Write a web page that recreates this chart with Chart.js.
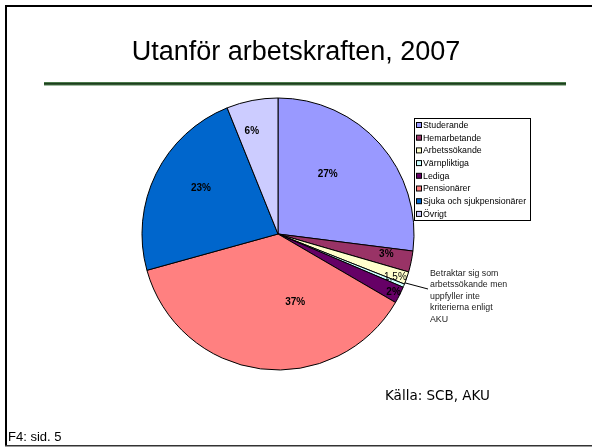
<!DOCTYPE html>
<html lang="sv">
<head>
<meta charset="UTF-8">
<title>Utanför arbetskraften, 2007</title>
<style>
  html, body { margin: 0; padding: 0; background: #fff; }
  canvas { display: block; }
</style>
</head>
<body>
<canvas id="chart" width="592" height="447"></canvas>
<script src="https://cdn.jsdelivr.net/npm/chart.js"></script>
<script>
// data
const categories = ["Studerande", "Hemarbetande", "Arbetssökande", "Värnpliktiga",
                    "Lediga", "Pensionärer", "Sjuka och sjukpensionärer", "Övrigt"];
const shares = [27, 2.5, 1.5, 0.4, 2, 37.3, 23.2, 6.1];
const shareLabels = ["27%", "3%", "1,5%", "", "2%", "37%", "23%", "6%"];
const noteLines = ["Betraktar sig som", "arbetssökande men", "uppfyller inte", "kriterierna enligt", "AKU"];

// styling
const colors = ["#9999FF", "#993366", "#FFFFCC", "#CCFFFF", "#660066", "#FF8080", "#0066CC", "#CCCCFF"];
// where inside each slice the label sits: fraction along the arc, fraction of radius
const labelT = [0.41, 0.37, 0.74, 0, 0.49, 0.34, 0.555, 0.35];
const labelR = [0.57, 0.81, 0.92, 0, 0.95, 0.52, 0.66, 0.78];
const labelBold = [true, true, false, false, true, true, true, true];

const slide = {
  id: 'slide',
  beforeDraw(chart) {
    const ctx = chart.ctx;
    ctx.save();
    ctx.fillStyle = '#fff';
    ctx.fillRect(0, 0, chart.width, chart.height);
    // frame
    ctx.fillStyle = '#000';
    ctx.fillRect(5, 5, 2, 441);
    ctx.fillRect(5, 5, 587, 2);
    ctx.fillStyle = '#333';
    ctx.fillRect(5, 445, 587, 1.5);
    // title
    ctx.fillStyle = '#000';
    ctx.font = '27px "Liberation Sans", Arial, sans-serif';
    ctx.textAlign = 'center';
    ctx.textBaseline = 'alphabetic';
    ctx.fillText('Utanför arbetskraften, 2007', 296, 60);
    // green rule
    ctx.fillStyle = '#4a7a4a';
    ctx.fillRect(44, 82, 522, 3.5);
    ctx.fillStyle = '#1d3d1d';
    ctx.fillRect(44, 83, 522, 1.5);
    // footer texts
    ctx.fillStyle = '#000';
    ctx.textAlign = 'left';
    ctx.font = '13.5px "DejaVu Sans", Verdana, sans-serif';
    ctx.fillText('Källa: SCB, AKU', 385, 400);
    ctx.font = '13px "Liberation Sans", Arial, sans-serif';
    ctx.fillText('F4: sid. 5', 8, 441);
    ctx.restore();
  },
  afterDatasetsDraw(chart) {
    const ctx = chart.ctx;
    const arcs = chart.getDatasetMeta(0).data;
    ctx.save();
    // slice labels
    ctx.fillStyle = '#000';
    ctx.textAlign = 'center';
    ctx.textBaseline = 'middle';
    arcs.forEach((arc, i) => {
      if (!shareLabels[i]) return;
      const a = arc.startAngle + labelT[i] * (arc.endAngle - arc.startAngle);
      const r = arc.outerRadius * labelR[i];
      ctx.font = (labelBold[i] ? 'bold ' : '') + '10px "Liberation Sans", Arial, sans-serif';
      ctx.fillText(shareLabels[i], arc.x + r * Math.cos(a), arc.y + r * Math.sin(a));
    });
    // callout for Arbetssökande
    const arb = arcs[2];
    const a = arb.startAngle + 0.9 * (arb.endAngle - arb.startAngle);
    ctx.strokeStyle = '#000';
    ctx.lineWidth = 1;
    ctx.beginPath();
    ctx.moveTo(arb.x + arb.outerRadius * Math.cos(a), arb.y + arb.outerRadius * Math.sin(a));
    ctx.lineTo(428, 289);
    ctx.stroke();
    ctx.textAlign = 'left';
    ctx.font = '8.8px "Liberation Sans", Arial, sans-serif';
    ctx.fillStyle = '#222';
    noteLines.forEach((t, i) => ctx.fillText(t, 430, 273.5 + i * 11.5));
    // legend
    ctx.strokeStyle = '#000';
    ctx.strokeRect(414.5, 118.5, 116, 102);
    ctx.font = '8.8px "Liberation Sans", Arial, sans-serif';
    chart.data.labels.forEach((lab, i) => {
      const y = 125 + i * 12.7;
      ctx.fillStyle = colors[i];
      ctx.fillRect(416.5, y - 2.5, 5, 5);
      ctx.strokeRect(416.5, y - 2.5, 5, 5);
      ctx.fillStyle = '#000';
      ctx.fillText(lab, 423, y + 0.5);
    });
    ctx.restore();
  }
};

new Chart(document.getElementById('chart'), {
  type: 'pie',
  data: {
    labels: categories,
    datasets: [{
      data: shares,
      backgroundColor: colors,
      borderColor: '#000',
      borderWidth: 1,
      hoverOffset: 0
    }]
  },
  options: {
    responsive: false,
    animation: false,
    events: [],
    radius: 136,
    layout: { padding: { left: 142, right: 178, top: 98, bottom: 77 } },
    plugins: {
      legend: { display: false },
      title: { display: false },
      tooltip: { enabled: false }
    }
  },
  plugins: [slide]
});
</script>
</body>
</html>
